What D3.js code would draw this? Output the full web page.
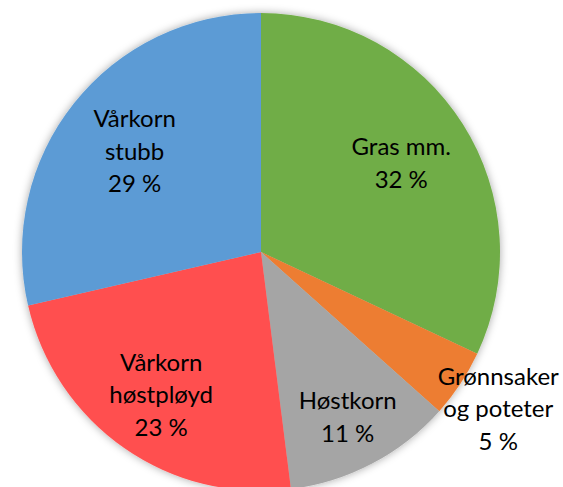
<!DOCTYPE html>
<html lang="no">
<meta charset="utf-8">
<head>
    <script src="https://d3js.org/d3.v7.min.js"></script>
</head>
<style>
    body { margin: 0; background: #fff; }
    svg text {
        fill: #000;
        font: 24px Lato, "Open Sans", sans-serif;
        text-anchor: middle;
    }
</style>
<body>
<script>
// slices clockwise from 12 o'clock
var categories = ["Gras mm.", "Grønnsaker og poteter", "Høstkorn", "Vårkorn høstpløyd", "Vårkorn stubb"];
var values = [32.0, 4.6, 11.4, 23.4, 28.6];
var labelLines = [["Gras mm."], ["Grønnsaker", "og poteter"], ["Høstkorn"], ["Vårkorn", "høstpløyd"], ["Vårkorn", "stubb"]];
var colors = ["#70ad47", "#ed7d31", "#a5a5a5", "#ff5050", "#5b9bd5"];

var width = 563, height = 487;
var cx = 261, cy = 252, radius = 239;
var lineH = 32.5;
// where excel put each label, as a fraction of the radius
var labelPos = [0.695, 1.19, 0.78, 0.73, 0.676];

var total = d3.sum(values);
var data = categories.map(function(c, i) {
    return { name: c, value: values[i], lines: labelLines[i], color: colors[i], pos: labelPos[i] };
});

var svg = d3.select("body").append("svg")
    .attr("width", width)
    .attr("height", height);

var defs = svg.append("defs");
defs.append("filter")
    .attr("id", "shadow")
    .attr("x", "-10%").attr("y", "-10%")
    .attr("width", "120%").attr("height", "120%")
    .append("feDropShadow")
    .attr("dx", 0).attr("dy", 0)
    .attr("stdDeviation", 4)
    .attr("flood-color", "#000")
    .attr("flood-opacity", 0.35);

var pie = d3.pie().sort(null).value(function(d) { return d.value; });
var arc = d3.arc().innerRadius(0).outerRadius(radius);

var g = svg.append("g").attr("transform", "translate(" + cx + "," + cy + ")");

var slices = g.append("g").attr("filter", "url(#shadow)");
slices.selectAll("path")
    .data(pie(data))
    .enter()
    .append("path")
    .attr("d", arc)
    .attr("fill", function(d) { return d.data.color; });

var label = g.selectAll("text")
    .data(pie(data))
    .enter()
    .append("text")
    .attr("transform", function(d) {
        var r = radius * d.data.pos;
        var c = d3.arc().innerRadius(r).outerRadius(r).centroid(d);
        return "translate(" + c[0] + "," + c[1] + ")";
    });

label.each(function(d) {
    var lines = d.data.lines.concat([d3.format(".0f")(d.data.value / total * 100) + " %"]);
    var n = lines.length;
    d3.select(this).selectAll("tspan")
        .data(lines)
        .enter()
        .append("tspan")
        .attr("x", 0)
        .attr("y", function(t, i) { return (i - (n - 1) / 2) * lineH; })
        .attr("dy", "0.35em")
        .text(function(t) { return t; });
});
</script>
</body>
</html>
